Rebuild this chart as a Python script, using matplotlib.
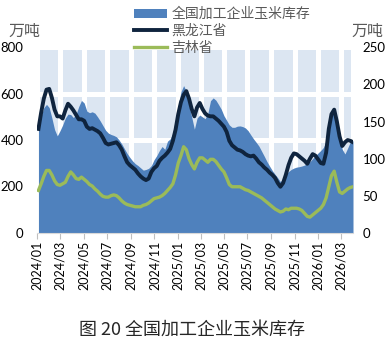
import matplotlib
matplotlib.use('Agg')
import matplotlib.pyplot as plt
import matplotlib.dates as mdates
import pandas as pd
from matplotlib.patches import Patch
from matplotlib.lines import Line2D
from matplotlib.font_manager import FontProperties

plt.rcParams['font.family'] = ['Lato', 'Noto Sans CJK SC', 'DejaVu Sans']

# ---------------- data ----------------
dates = pd.date_range('2024-01-04', periods=118, freq='7D')

national = [460, 505, 540, 554, 540, 495, 445, 418, 440, 465,
            495, 512, 510, 497, 512, 545, 571, 560, 525, 518,
            522, 516, 500, 482, 462, 442, 430, 424, 420, 414,
            400, 383, 362, 342, 325, 310, 298, 290, 280, 270,
            273, 278, 290, 315, 333, 355, 372, 360, 395, 405,
            430, 490, 550, 608, 635, 610, 550, 500, 447, 495,
            508, 500, 492, 515, 570, 582, 572, 553, 533, 505,
            485, 465, 455, 455, 460, 461, 458, 452, 440, 422,
            405, 390, 374, 352, 330, 307, 287, 268, 252, 237,
            220, 235, 252, 264, 273, 279, 283, 285, 288, 292,
            299, 307, 320, 332, 344, 355, 368, 395, 454, 520,
            540, 487, 415, 360, 340, 365, 392, 397]

heilongjiang = [140, 162, 181, 193, 194, 182, 166, 157, 157, 154,
                165, 174, 170, 165, 159, 153, 153, 151, 143, 140,
                141, 139, 137, 134, 128, 121, 119, 120, 121, 122,
                118, 112, 103, 95, 91, 88, 85, 80, 76, 73,
                71, 73, 82, 87, 90, 97, 101, 104, 108, 113,
                124, 139, 160, 176, 186, 191, 181, 167, 157, 169,
                175, 167, 161, 158, 157, 157, 154, 151, 147, 143,
                136, 124, 118, 115, 112, 111, 109, 106, 104, 103,
                104, 100, 95, 92, 88, 85, 81, 78, 74, 67,
                62, 67, 78, 91, 101, 107, 106, 103, 100, 97,
                93, 100, 106, 104, 99, 94, 93, 108, 140, 160,
                166, 150, 130, 117, 122, 125, 124, 122]

jilin = [57, 66, 76, 84, 84, 78, 70, 65, 64, 66,
         68, 76, 82, 78, 73, 72, 75, 72, 69, 65,
         63, 59, 56, 52, 49, 48, 48, 50, 51, 50,
         47, 43, 40, 38, 37, 36, 35, 35, 35, 37,
         38, 40, 43, 46, 47, 48, 50, 53, 57, 61,
         66, 78, 94, 104, 116, 112, 100, 92, 86, 95,
         101, 101, 98, 95, 99, 99, 96, 91, 86, 82,
         74, 65, 62, 62, 62, 62, 60, 58, 57, 55,
         53, 51, 49, 47, 44, 41, 38, 35, 32, 30,
         28, 29, 32, 31, 33, 33, 33, 32, 30, 26,
         22, 21, 24, 27, 30, 33, 38, 47, 62, 77,
         83, 68, 55, 53, 56, 59, 61, 62]

series_names = ['全国加工企业玉米库存', '黑龙江省', '吉林省']
tick_labels = ['2024/01', '2024/03', '2024/05', '2024/07', '2024/09', '2024/11',
               '2025/01', '2025/03', '2025/05', '2025/07', '2025/09', '2025/11',
               '2026/01', '2026/03']
left_ticks = [0, 200, 400, 600, 800]
right_ticks = [0, 50, 100, 150, 200, 250]
title = '图 20 全国加工企业玉米库存'

# ---------------- styling ----------------
C_AREA = '#4F81BD'
C_BLACK = '#0F243E'
C_GREEN = '#9BBB59'
C_BAND = '#DCE6F2'
C_GRAY = '#595959'

fig = plt.figure(figsize=(3.87, 3.44), dpi=100)
ax = fig.add_axes([37.3 / 387, 1 - 232.7 / 344, (353 - 37.3) / 387, (232.7 - 47.4) / 344])

tick_dates = pd.to_datetime([t.replace('/', '-') + '-01' for t in tick_labels])
x_start = pd.Timestamp('2024-01-01')
x_end = dates[-1]

# background bands (stacked light blue blocks with white borders)
edges = list(tick_dates) + [x_end]
lefts = mdates.date2num(edges[:-1])
widths = mdates.date2num(edges[1:]) - lefts
for lvl in left_ticks[:-1]:
    ax.bar(lefts, left_ticks[1], width=widths, bottom=lvl, align='edge',
           color=C_BAND, edgecolor='white', linewidth=3.6, zorder=0)

ax.fill_between(dates, national, 0, color=C_AREA, linewidth=0, zorder=2)
ax.set_xlim(x_start, x_end)
ax.set_ylim(0, 800)
ax.set_yticks(left_ticks)
ax.set_xticks(tick_dates)
ax.set_xticklabels(tick_labels, rotation=90, fontsize=9)
ax.tick_params(axis='x', length=4, color='#BFBFBF', pad=2)
ax.tick_params(axis='y', length=0, pad=10, labelsize=9.5)
for s in ['top', 'left', 'right']:
    ax.spines[s].set_visible(False)
ax.spines['bottom'].set_color('#D9D9D9')

ax2 = ax.twinx()
ax2.plot(dates, heilongjiang, color=C_BLACK, linewidth=2.8, solid_joinstyle='round', zorder=3)
ax2.plot(dates, jilin, color=C_GREEN, linewidth=2.4, solid_joinstyle='round', zorder=3)
ax2.set_ylim(0, 250)
ax2.set_yticks(right_ticks)
ax2.tick_params(axis='y', length=0, pad=7, labelsize=9.5)
for s in ['top', 'left', 'right', 'bottom']:
    ax2.spines[s].set_visible(False)
ax2.set_xlim(x_start, x_end)

cjk = FontProperties(family=['Noto Sans CJK SC', 'DejaVu Sans'], size=11.5)
fig.text(24 / 387, 1 - 31 / 344, '万吨', fontproperties=cjk, color=C_GRAY, ha='center', va='center')
fig.text(367 / 387, 1 - 31 / 344, '万吨', fontproperties=cjk, color=C_GRAY, ha='center', va='center')

handles = [Patch(facecolor=C_AREA, edgecolor='none'),
           Line2D([], [], color=C_BLACK, linewidth=2.8),
           Line2D([], [], color=C_GREEN, linewidth=2.4)]
leg = fig.legend(handles, series_names, loc='upper left', bbox_to_anchor=(134 / 387, 1 - 7 / 344),
                 frameon=False, prop=FontProperties(family=['Noto Sans CJK SC', 'DejaVu Sans'], size=10),
                 labelcolor=C_GRAY, handlelength=2.4, handleheight=0.6, handletextpad=0.3,
                 labelspacing=0.22, borderpad=0, borderaxespad=0)

fig.text(192 / 387, 1 - 330 / 344, title,
         fontproperties=FontProperties(family=['Noto Sans CJK SC', 'DejaVu Sans'], size=13),
         color='#262626', ha='center', va='center')

fig.savefig('out.png', dpi=100)
